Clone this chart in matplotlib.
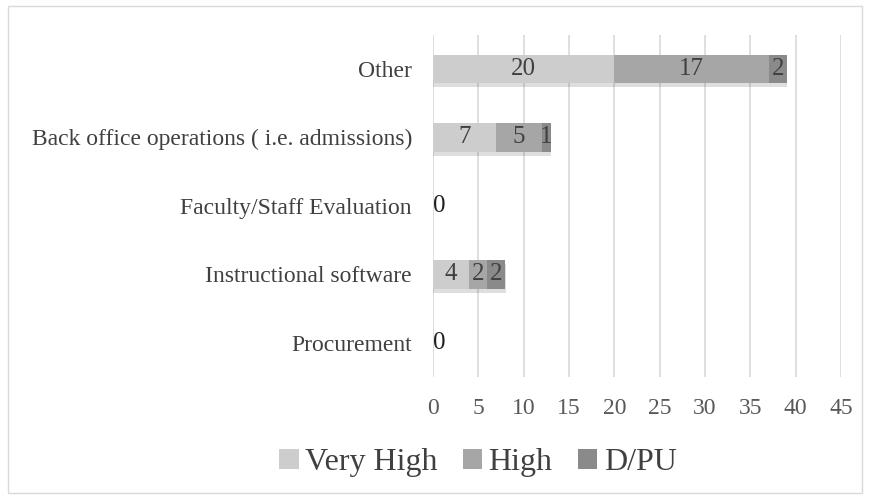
import matplotlib.pyplot as plt
import matplotlib.patheffects as pe
import numpy as np

categories = ['Procurement', 'Instructional software', 'Faculty/Staff Evaluation',
              'Back office operations ( i.e. admissions)', 'Other']
very_high = [0, 4, 0, 7, 20]
high = [0, 2, 0, 5, 17]
dpu = [0, 2, 0, 1, 2]
series_names = ['Very High', 'High', 'D/PU']
colors = ['#cdcdcd', '#a6a6a6', '#8a8a8a']

plt.rcParams['font.family'] = ['Liberation Serif', 'DejaVu Serif']

fig = plt.figure(figsize=(8.69, 4.99), dpi=100)
ax = fig.add_axes([0.498, 0.2445, 0.47, 0.686])

y = np.arange(len(categories))
left = np.zeros(len(categories))
shadow = [pe.SimplePatchShadow(offset=(0.5, -3), shadow_rgbFace='#000000', alpha=0.13), pe.Normal()]
for vals, name, col in zip([very_high, high, dpu], series_names, colors):
    vals = np.array(vals)
    bars = ax.barh(y, vals, left=left, height=0.42, color=col, label=name, zorder=3)
    for b, v in zip(bars, vals):
        if v > 0:
            b.set_path_effects(shadow)
    for i, v in enumerate(vals):
        if v > 0:
            ax.text(left[i] + v / 2, y[i], str(v), ha='center', va='center',
                    fontsize=18, color='#404040', zorder=4)
    left += vals

# zero totals shown as labels at the origin
for i in range(len(categories)):
    if left[i] == 0:
        ax.text(0.05, y[i], '0', ha='left', va='center', fontsize=18, color='#202020', zorder=4)

ax.set_xlim(0, 45)
ax.set_xticks(range(0, 46, 5))
ax.set_ylim(-0.5, len(categories) - 0.5)
ax.set_yticks(y)
ax.set_yticklabels(categories, fontsize=17, color='#404040')
ax.tick_params(axis='x', labelsize=17, colors='#595959', length=0, pad=15)
ax.tick_params(axis='y', length=0, pad=15)
ax.grid(axis='x', color='#d9d9d9', linewidth=1.2, zorder=0)
for s in ax.spines.values():
    s.set_visible(False)

leg = fig.legend(loc='center', bbox_to_anchor=(0.55, 0.073), ncol=3, frameon=False,
                 fontsize=23, handlelength=0.6, handleheight=0.6, handletextpad=0.2,
                 columnspacing=0.8)
for t in leg.get_texts():
    t.set_color('#404040')

border = plt.Rectangle((0.009, 0.012), 0.983, 0.975, transform=fig.transFigure,
                       fill=False, edgecolor='#d9d9d9', linewidth=1)
fig.patches.append(border)

fig.savefig('out.png', dpi=100)
